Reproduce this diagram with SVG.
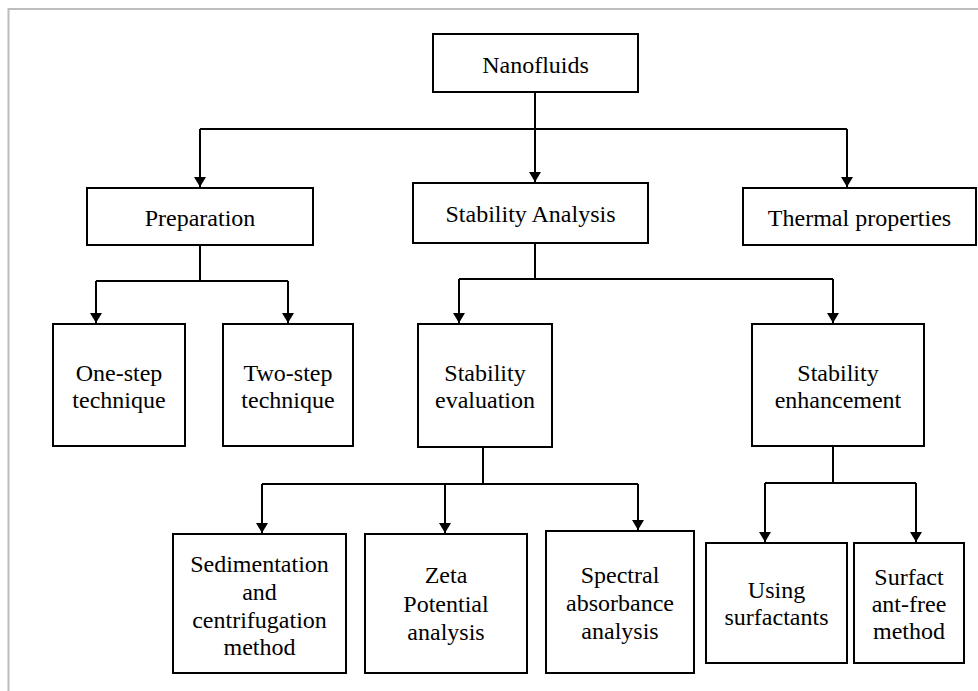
<svg xmlns="http://www.w3.org/2000/svg" width="978" height="691" viewBox="0 0 978 691">
<style>
.box{fill:#fff;stroke:#000;stroke-width:2}
text{font-family:'Liberation Serif',Tinos,'Times New Roman',Times,serif;font-size:24px;fill:#000;text-anchor:middle}
.c{fill:none;stroke:#000;stroke-width:2}
</style>
<defs>
<marker id="ah" viewBox="0 0 10 12" refX="10" refY="6" markerWidth="10" markerHeight="12" markerUnits="userSpaceOnUse" orient="auto">
<path d="M0,0 L10,6 L0,12 Z" fill="#000"/>
</marker>
</defs>
<rect width="978" height="691" fill="#fff"/>
<path d="M8.5,691 V9 H978" fill="none" stroke="#bdbdbd" stroke-width="2"/>

<g id="connectors">
<path class="c" d="M535,92 V129"/>
<path class="c" d="M200,129 H847"/>
<line class="c" x1="200" y1="129" x2="200" y2="187" marker-end="url(#ah)"/>
<line class="c" x1="535" y1="129" x2="535" y2="182" marker-end="url(#ah)"/>
<line class="c" x1="847" y1="129" x2="847" y2="187" marker-end="url(#ah)"/>

<path class="c" d="M200,245 V281 M96,281 H288"/>
<line class="c" x1="96" y1="281" x2="96" y2="323" marker-end="url(#ah)"/>
<line class="c" x1="288" y1="281" x2="288" y2="323" marker-end="url(#ah)"/>

<path class="c" d="M535,243 V279 M459,279 H833"/>
<line class="c" x1="459" y1="279" x2="459" y2="323" marker-end="url(#ah)"/>
<line class="c" x1="833" y1="279" x2="833" y2="323" marker-end="url(#ah)"/>

<path class="c" d="M483,447 V484 M262,484 H638"/>
<line class="c" x1="262" y1="484" x2="262" y2="533" marker-end="url(#ah)"/>
<line class="c" x1="445" y1="484" x2="445" y2="533" marker-end="url(#ah)"/>
<line class="c" x1="638" y1="484" x2="638" y2="530" marker-end="url(#ah)"/>

<path class="c" d="M833,446 V483 M765,483 H916"/>
<line class="c" x1="765" y1="483" x2="765" y2="542" marker-end="url(#ah)"/>
<line class="c" x1="916" y1="483" x2="916" y2="542" marker-end="url(#ah)"/>
</g>

<g id="nanofluids">
<rect class="box" x="433" y="34" width="205" height="58"/>
<text x="535.5" y="73">Nanofluids</text>
</g>
<g id="preparation">
<rect class="box" x="87" y="188" width="226" height="57"/>
<text x="200" y="226">Preparation</text>
</g>
<g id="stability-analysis">
<rect class="box" x="413" y="183" width="235" height="60"/>
<text x="530.5" y="222">Stability Analysis</text>
</g>
<g id="thermal-properties">
<rect class="box" x="743" y="188" width="233" height="57"/>
<text x="859.5" y="226">Thermal properties</text>
</g>
<g id="one-step">
<rect class="box" x="53" y="324" width="132" height="122"/>
<text x="119" y="381">One-step</text>
<text x="119" y="408">technique</text>
</g>
<g id="two-step">
<rect class="box" x="223" y="324" width="130" height="122"/>
<text x="288" y="381">Two-step</text>
<text x="288" y="408">technique</text>
</g>
<g id="stability-evaluation">
<rect class="box" x="418" y="324" width="134" height="123"/>
<text x="485" y="381">Stability</text>
<text x="485" y="408">evaluation</text>
</g>
<g id="stability-enhancement">
<rect class="box" x="752" y="324" width="172" height="122"/>
<text x="838" y="381">Stability</text>
<text x="838" y="408">enhancement</text>
</g>
<g id="sedimentation">
<rect class="box" x="173" y="534" width="173" height="139"/>
<text x="259.5" y="572">Sedimentation</text>
<text x="259.5" y="600">and</text>
<text x="259.5" y="628">centrifugation</text>
<text x="259.5" y="655">method</text>
</g>
<g id="zeta">
<rect class="box" x="365" y="534" width="162" height="139"/>
<text x="446" y="583">Zeta</text>
<text x="446" y="612">Potential</text>
<text x="446" y="640">analysis</text>
</g>
<g id="spectral">
<rect class="box" x="546" y="531" width="148" height="142"/>
<text x="620" y="583">Spectral</text>
<text x="620" y="611">absorbance</text>
<text x="620" y="639">analysis</text>
</g>
<g id="using-surfactants">
<rect class="box" x="706" y="543" width="141" height="120"/>
<text x="776.5" y="598">Using</text>
<text x="776.5" y="625">surfactants</text>
</g>
<g id="surfactant-free">
<rect class="box" x="854" y="543" width="110" height="120"/>
<text x="909" y="585">Surfact</text>
<text x="909" y="612">ant-free</text>
<text x="909" y="639">method</text>
</g>
</svg>
